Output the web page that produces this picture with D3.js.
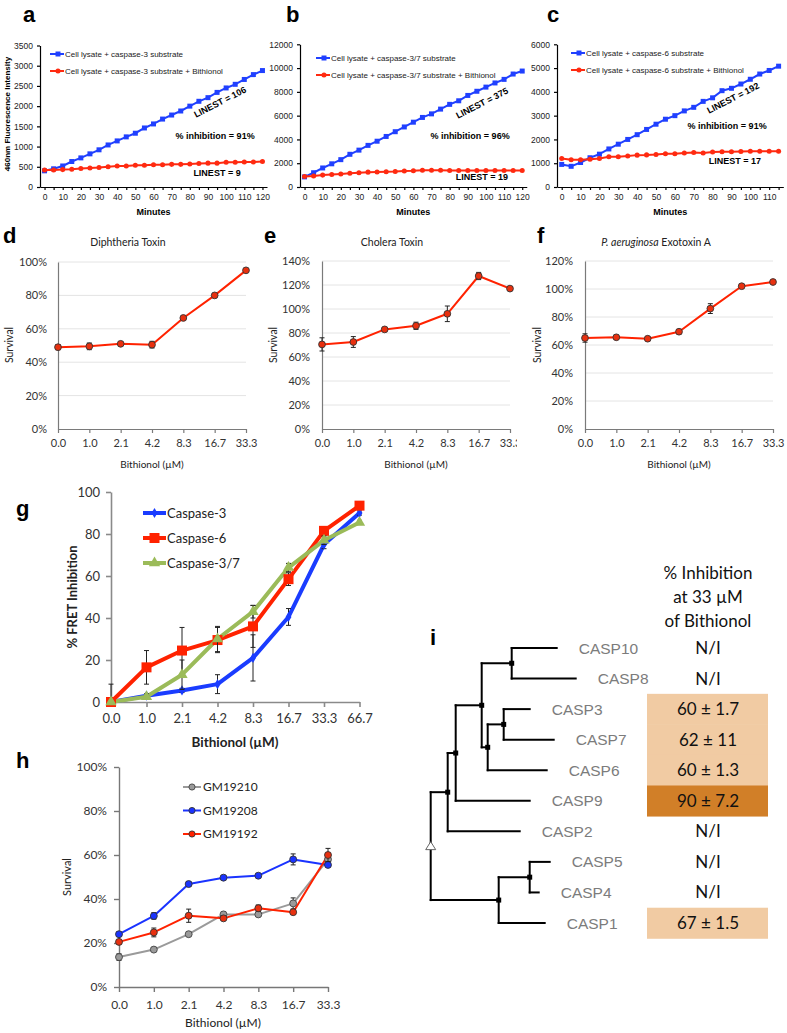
<!DOCTYPE html>
<html>
<head>
<meta charset="utf-8">
<script src="https://cdn.jsdelivr.net/npm/d3@7"></script>
<style>
body { margin: 0; background: #fff; }
svg { display: block; }
</style>
</head>
<body>
<script>
// ---------- data ----------
const minutesAB = [0,5,10,15,20,25,30,35,40,45,50,55,60,65,70,75,80,85,90,95,100,105,110,115,120];
const minutesC  = [0,5,10,15,20,25,30,35,40,45,50,55,60,65,70,75,80,85,90,95,100,105,110,115];

const aSubstrate = [400,450,520,630,720,820,920,1040,1140,1240,1330,1460,1560,1680,1780,1880,2000,2120,2210,2340,2450,2540,2660,2780,2880];
const aBithionol = [420,420,430,440,460,470,480,500,520,520,540,540,550,550,560,560,570,580,590,590,610,610,620,620,630];
const bSubstrate = [850,1200,1600,1950,2300,2750,3100,3500,3850,4250,4650,5050,5450,5850,6150,6550,6950,7250,7700,8050,8400,8750,9050,9500,9750];
const bBithionol = [880,920,1000,1050,1100,1150,1200,1250,1260,1280,1300,1350,1360,1400,1400,1400,1390,1390,1380,1390,1380,1390,1380,1390,1390];
const cSubstrate = [950,870,1030,1230,1380,1600,1800,2000,2200,2420,2640,2850,3000,3200,3350,3600,3750,4050,4150,4330,4530,4750,4900,5080];
const cBithionol = [1200,1150,1150,1170,1200,1270,1270,1300,1340,1350,1370,1400,1400,1430,1450,1430,1470,1480,1480,1490,1500,1500,1500,1500];

const aTicks = [0,500,1000,1500,2000,2500,3000,3500];
const bTicks = [0,2000,4000,6000,8000,10000,12000];
const cTicks = [0,1000,2000,3000,4000,5000,6000];

const doseLabels  = ["0.0","1.0","2.1","4.2","8.3","16.7","33.3"];
const gDoseLabels = ["0.0","1.0","2.1","4.2","8.3","16.7","33.3","66.7"];

const dSurvival = [49, 49.5, 51, 50.5, 66.5, 80, 95];
const dErr      = [1.5, 2, 1, 2, 0.5, 0.5, 0.5];
const eSurvival = [70.5, 72.5, 83, 86, 96, 127.5, 117];
const eErr      = [5.5, 4.5, 1, 3, 6.5, 3, 1.5];
const fSurvival = [65, 65.5, 64.5, 69.5, 86, 102, 105];
const fErr      = [3, 1.5, 1, 1.5, 3.5, 1, 0.5];
const dTicks = [0,20,40,60,80,100];
const eTicks = [0,20,40,60,80,100,120,140];
const fTicks = [0,20,40,60,80,100,120];

const gCasp3     = [0, 3, 5.5, 8.5, 21, 40.5, 75, 90];
const gCasp3Err  = [8.5, 1, 1, 4.5, 11, 4, 2, 1];
const gCasp6     = [0, 16.5, 24.5, 29.5, 36, 58.5, 81.5, 93.5];
const gCasp6Err  = [0, 8, 11, 6, 10, 3, 2, 1];
const gCasp37    = [0, 2.5, 13, 30, 43, 64, 77, 85.5];
const gCasp37Err = [0, 1, 7, 6, 3, 2, 2, 1];
const gTicks = [0,20,40,60,80,100];

const hGM19210    = [13.6, 17, 24, 33, 33, 38, 58];
const hGM19210Err = [1.5, 0.5, 0.5, 1, 1, 2.5, 0];
const hGM19208    = [24, 32.3, 46.8, 49.7, 50.6, 58, 55.5];
const hGM19208Err = [1, 1.5, 1, 0.5, 0.5, 2.5, 1];
const hGM19192    = [20.5, 24.8, 32.4, 31.2, 35.8, 34, 60];
const hGM19192Err = [1, 2, 3, 1, 1.5, 1, 3];
const hTicks = [0,20,40,60,80,100];

// caspase tree: node, parent, distance from root
const treeIds     = ["root","n1","n2","n3","n4","CASP10","CASP8","n5","n6","CASP3","CASP7","CASP6","CASP9","CASP2","n7","n8","CASP5","CASP4","CASP1"];
const treeParents = ["", "root","n1","n2","n3","n4","n4","n3","n5","n6","n6","n5","n2","n1","root","n7","n8","n8","n7"];
const treeDist    = [0, 0.17, 0.25, 0.51, 0.81, 1.26, 1.45, 0.57, 0.73, 0.99, 1.23, 1.16, 0.99, 0.89, 0.68, 0.99, 1.19, 1.08, 1.14];
const leafInhibition = ["N/I","N/I","60 ± 1.7","62 ± 11","60 ± 1.3","90 ± 7.2","N/I","N/I","N/I","67 ± 1.5"];
const leafLevel      = [0,0,1,1,1,2,0,0,0,1];

// ---------- drawing ----------
const ARIAL = "'Liberation Sans', Arial, sans-serif";
const CAL = "Lato, 'Open Sans', sans-serif";
const BLUE = "#2040ff", RED = "#ff2a10";

const svg = d3.select("body").append("svg")
    .attr("width", 787)
    .attr("height", 1033);

function styleAxis(a, color, font, size, textColor){
    a.attr("font-family", font).attr("font-size", size);
    a.select(".domain").attr("stroke", color).attr("stroke-width", 1.2);
    a.selectAll(".tick line").attr("stroke", color).attr("stroke-width", 1.2);
    a.selectAll(".tick text").attr("fill", textColor || "#222");
}

function panelLetter(t, x, y){
    svg.append("text").text(t).attr("x", x).attr("y", y)
        .attr("font-family", ARIAL).attr("font-weight", "bold").attr("font-size", 22);
}

function symbolPath(shape, size){
    const types = {square: d3.symbolSquare, circle: d3.symbolCircle, diamond: d3.symbolDiamond, triangle: d3.symbolTriangle};
    return d3.symbol(types[shape], size)();
}

// panels a-c
function kinetics(p){
    const g = svg.append("g");
    const x = d3.scalePoint().domain(p.cats)
        .range([p.left, p.left + p.step * p.cats.length]).padding(0.5);
    const y = d3.scaleLinear().domain([0, d3.max(p.yTicks)]).range([187, p.top]);

    const ya = g.append("g").attr("transform", `translate(${p.left},0)`)
        .call(d3.axisLeft(y).tickValues(p.yTicks).tickSize(3).tickPadding(4).tickSizeOuter(0)
            .tickFormat(d3.format("d")));
    const xa = g.append("g").attr("transform", "translate(0,187)")
        .call(d3.axisBottom(x).tickSize(3).tickPadding(4).tickSizeOuter(0)
            .tickFormat(d => d % 10 === 0 ? d : ""));
    styleAxis(ya, "#000", ARIAL, 8.5);
    styleAxis(xa, "#000", ARIAL, 8.5);

    p.series.forEach((s, k) => {
        g.append("path").datum(s.values)
            .attr("fill", "none").attr("stroke", s.color).attr("stroke-width", 2)
            .attr("d", d3.line().x((d, i) => x(p.cats[i])).y(d => y(d)));
        g.append("g").selectAll("path").data(s.values).join("path")
            .attr("transform", (d, i) => `translate(${x(p.cats[i])},${y(d)})`)
            .attr("d", symbolPath(s.shape, s.shape === "square" ? 25 : 20))
            .attr("fill", s.color);
        // legend
        const ly = p.legendY + k * 17;
        g.append("line").attr("x1", p.legendX - 14).attr("x2", p.legendX)
            .attr("y1", ly).attr("y2", ly).attr("stroke", s.color).attr("stroke-width", 2);
        g.append("path").attr("transform", `translate(${p.legendX - 6},${ly})`)
            .attr("d", symbolPath(s.shape, s.shape === "square" ? 25 : 20)).attr("fill", s.color);
        g.append("text").text(s.name).attr("x", p.legendX + 1).attr("y", ly + 3)
            .attr("font-family", ARIAL).attr("font-size", 8).attr("fill", "#222");
    });

    g.append("text").text("Minutes")
        .attr("x", p.left + p.step * p.cats.length / 2).attr("y", 215)
        .attr("text-anchor", "middle").attr("font-family", ARIAL)
        .attr("font-weight", "bold").attr("font-size", 9);

    p.notes.forEach(n => {
        g.append("text").text(n.text)
            .attr("transform", `translate(${n.x},${n.y}) rotate(${n.rot || 0})`)
            .attr("dy", "0.35em").attr("text-anchor", "middle")
            .attr("font-family", ARIAL).attr("font-weight", "bold").attr("font-size", 9);
    });
    return g;
}

kinetics({
    cats: minutesAB, left: 40, step: 9.08, top: 45.5, yTicks: aTicks,
    legendX: 64, legendY: 54,
    series: [
        {name: "Cell lysate + caspase-3 substrate", values: aSubstrate, color: BLUE, shape: "square"},
        {name: "Cell lysate + caspase-3 substrate + Bithionol", values: aBithionol, color: RED, shape: "circle"}
    ],
    notes: [
        {text: "LINEST = 106", x: 220, y: 102, rot: -27},
        {text: "% inhibition = 91%", x: 215, y: 136},
        {text: "LINEST = 9", x: 217, y: 173}
    ]
});
kinetics({
    cats: minutesAB, left: 300, step: 9.07, top: 44.3, yTicks: bTicks,
    legendX: 330, legendY: 58,
    series: [
        {name: "Cell lysate + caspase-3/7 substrate", values: bSubstrate, color: BLUE, shape: "square"},
        {name: "Cell lysate + caspase-3/7 substrate + Bithionol", values: bBithionol, color: RED, shape: "circle"}
    ],
    notes: [
        {text: "LINEST = 375", x: 482, y: 103, rot: -27},
        {text: "% inhibition = 96%", x: 470, y: 136},
        {text: "LINEST = 19", x: 482, y: 177}
    ]
});
kinetics({
    cats: minutesC, left: 557, step: 9.43, top: 44.3, yTicks: cTicks,
    legendX: 585, legendY: 53,
    series: [
        {name: "Cell lysate + caspase-6 substrate", values: cSubstrate, color: BLUE, shape: "square"},
        {name: "Cell lysate + caspase-6 substrate + Bithionol", values: cBithionol, color: RED, shape: "circle"}
    ],
    notes: [
        {text: "LINEST = 192", x: 733, y: 98, rot: -27},
        {text: "% inhibition = 91%", x: 727, y: 126},
        {text: "LINEST = 17", x: 735, y: 161}
    ]
});

svg.append("text").text("460nm Fluorescence Intensity")
    .attr("transform", "translate(7,114) rotate(-90)").attr("dy", "0.35em")
    .attr("text-anchor", "middle").attr("font-family", ARIAL)
    .attr("font-weight", "bold").attr("font-size", 8);

panelLetter("a", 23, 22);
panelLetter("b", 286, 22);
panelLetter("c", 547, 22);

// dose-response panels d-h
let clipCount = 0;
function doseChart(p){
    const g = svg.append("g");
    if (p.clipRight){
        const id = "clip" + (clipCount++);
        svg.append("clipPath").attr("id", id).append("rect")
            .attr("x", p.left - 80).attr("y", p.top - 40)
            .attr("width", p.clipRight - p.left + 80).attr("height", p.bottom - p.top + 80);
        g.attr("clip-path", `url(#${id})`);
    }
    const x = d3.scalePoint().domain(p.cats).range([p.left, p.right]);
    const y = d3.scaleLinear().domain([0, d3.max(p.yTicks)]).range([p.bottom, p.top]);

    if (p.grid){
        g.append("g").selectAll("line").data(p.yTicks.slice(1)).join("line")
            .attr("x1", p.left).attr("x2", p.right)
            .attr("y1", d => y(d)).attr("y2", d => y(d))
            .attr("stroke", "#e4e4e4").attr("stroke-width", 1);
    }
    const ya = g.append("g").attr("transform", `translate(${p.left},0)`)
        .call(d3.axisLeft(y).tickValues(p.yTicks).tickSize(p.ytick).tickPadding(p.ypad)
            .tickSizeOuter(0).tickFormat(p.pct ? (d => d + "%") : (d => d)));
    const xa = g.append("g").attr("transform", `translate(0,${p.bottom})`)
        .call(d3.axisBottom(x).tickSize(p.xtick).tickPadding(p.xpad).tickSizeOuter(0));
    styleAxis(ya, p.axisColor, CAL, p.font, "#333");
    styleAxis(xa, p.axisColor, CAL, p.font, "#333");
    if (p.axisWidth){
        ya.selectAll("path, line").attr("stroke-width", p.axisWidth);
        xa.selectAll("path, line").attr("stroke-width", p.axisWidth);
    }

    p.series.forEach(s => {
        g.append("path").datum(s.values)
            .attr("fill", "none").attr("stroke", s.color).attr("stroke-width", s.width)
            .attr("stroke-linejoin", "round")
            .attr("d", d3.line().x((d, i) => x(p.cats[i])).y(d => y(d)));
    });
    p.series.forEach(s => {
        const eb = g.append("g").attr("stroke", "#222").attr("stroke-width", 1);
        s.values.forEach((v, i) => {
            const e = s.errs[i];
            if (!e) return;
            const cx = x(p.cats[i]);
            const y1 = y(Math.max(0, v - e)), y2 = y(v + e);
            eb.append("line").attr("x1", cx).attr("x2", cx).attr("y1", y1).attr("y2", y2);
            eb.append("line").attr("x1", cx - 2.5).attr("x2", cx + 2.5).attr("y1", y2).attr("y2", y2);
            if (v - e > 0) eb.append("line").attr("x1", cx - 2.5).attr("x2", cx + 2.5).attr("y1", y1).attr("y2", y1);
        });
        g.append("g").selectAll("path").data(s.values).join("path")
            .attr("transform", (d, i) => `translate(${x(p.cats[i])},${y(d)})`)
            .attr("d", symbolPath(s.shape, s.size))
            .attr("fill", s.fill || s.color)
            .attr("stroke", s.stroke || "none").attr("stroke-width", 0.9);
    });
    return {g, x, y};
}

function survivalPanel(p){
    doseChart(Object.assign({
        cats: doseLabels, bottom: 429, pct: true, grid: true, axisColor: "#7a7a7a",
        ytick: 0, xtick: 4, xpad: 6, font: 11,
        series: [{values: p.values, errs: p.errs, color: "#ff2200", width: 2,
                  shape: "circle", size: 36, fill: "#e8300f", stroke: "#333"}]
    }, p));
    const t = svg.append("text").attr("x", p.titleX).attr("y", 246)
        .attr("text-anchor", "middle").attr("font-family", CAL)
        .attr("font-size", 10.5).attr("fill", "#222");
    if (p.italic){
        t.append("tspan").attr("font-style", "italic").text(p.italic);
        t.append("tspan").text(p.title);
    } else t.text(p.title);
    svg.append("text").text("Survival")
        .attr("transform", `translate(${p.survX},345) rotate(-90)`).attr("dy", "0.35em")
        .attr("text-anchor", "middle").attr("font-family", CAL)
        .attr("font-size", 10.5).attr("fill", "#222");
    svg.append("text").text("Bithionol (µM)")
        .attr("x", (p.left + p.right) / 2).attr("y", 468)
        .attr("text-anchor", "middle").attr("font-family", CAL)
        .attr("font-size", 10).attr("fill", "#222");
}

survivalPanel({left: 58, right: 246, top: 262, yTicks: dTicks, ypad: 11,
    values: dSurvival, errs: dErr, title: "Diphtheria Toxin", titleX: 128, survX: 9});
survivalPanel({left: 322, right: 510, top: 261, yTicks: eTicks, ypad: 12, clipRight: 517,
    values: eSurvival, errs: eErr, title: "Cholera Toxin", titleX: 392, survX: 273});
survivalPanel({left: 585, right: 773, top: 261, yTicks: fTicks, ypad: 12,
    values: fSurvival, errs: fErr, italic: "P. aeruginosa", title: " Exotoxin A", titleX: 656, survX: 537});

panelLetter("d", 3, 243);
panelLetter("e", 264, 243);
panelLetter("f", 537, 243);

// panel g
doseChart({
    cats: gDoseLabels, left: 111, right: 359.5, top: 492, bottom: 702, yTicks: gTicks,
    pct: false, grid: false, axisColor: "#8a8a8a", axisWidth: 1.6,
    ytick: 5, ypad: 6, xtick: 5, xpad: 7, font: 13,
    series: [
        {values: gCasp3, errs: gCasp3Err, color: "#1a3cff", width: 4, shape: "diamond", size: 30},
        {values: gCasp6, errs: gCasp6Err, color: "#ff2200", width: 4, shape: "square", size: 100},
        {values: gCasp37, errs: gCasp37Err, color: "#9bbb59", width: 4, shape: "triangle", size: 55}
    ]
});
const gLegend = [
    {name: "Caspase-3", color: "#1a3cff", shape: "diamond", size: 30},
    {name: "Caspase-6", color: "#ff2200", shape: "square", size: 100},
    {name: "Caspase-3/7", color: "#9bbb59", shape: "triangle", size: 55}
];
gLegend.forEach((s, k) => {
    const ly = 513 + k * 25;
    svg.append("line").attr("x1", 143).attr("x2", 166).attr("y1", ly).attr("y2", ly)
        .attr("stroke", s.color).attr("stroke-width", 4);
    svg.append("path").attr("transform", `translate(154.5,${ly})`)
        .attr("d", symbolPath(s.shape, s.size)).attr("fill", s.color);
    svg.append("text").text(s.name).attr("x", 167).attr("y", ly + 4.5)
        .attr("font-family", CAL).attr("font-size", 13).attr("fill", "#222");
});
svg.append("text").text("% FRET Inhibition")
    .attr("transform", "translate(72,597) rotate(-90)").attr("dy", "0.35em")
    .attr("text-anchor", "middle").attr("font-family", CAL)
    .attr("font-weight", "bold").attr("font-size", 13).attr("fill", "#222");
svg.append("text").text("Bithionol (µM)")
    .attr("x", 235).attr("y", 747).attr("text-anchor", "middle")
    .attr("font-family", CAL).attr("font-weight", "bold").attr("font-size", 13.5).attr("fill", "#222");
panelLetter("g", 16, 516);

// panel h
doseChart({
    cats: doseLabels, left: 119, right: 328, top: 767, bottom: 987, yTicks: hTicks,
    pct: true, grid: false, axisColor: "#777", axisWidth: 1.4,
    ytick: 5, ypad: 7, xtick: 5, xpad: 8, font: 12,
    series: [
        {values: hGM19210, errs: hGM19210Err, color: "#9a9a9a", width: 2, shape: "circle", size: 38, fill: "#9a9a9a", stroke: "#444"},
        {values: hGM19208, errs: hGM19208Err, color: "#1a33ff", width: 2, shape: "circle", size: 38, fill: "#1a33ff", stroke: "#333"},
        {values: hGM19192, errs: hGM19192Err, color: "#ff2200", width: 2, shape: "circle", size: 38, fill: "#e8300f", stroke: "#333"}
    ]
});
const hLegend = [
    {name: "GM19210", color: "#9a9a9a", stroke: "#444"},
    {name: "GM19208", color: "#1a33ff", stroke: "#333"},
    {name: "GM19192", color: "#ff2200", stroke: "#333"}
];
hLegend.forEach((s, k) => {
    const ly = 787 + k * 23.5;
    svg.append("line").attr("x1", 183).attr("x2", 201).attr("y1", ly).attr("y2", ly)
        .attr("stroke", s.color).attr("stroke-width", 2);
    svg.append("path").attr("transform", `translate(192,${ly})`)
        .attr("d", symbolPath("circle", 30)).attr("fill", s.color)
        .attr("stroke", s.stroke).attr("stroke-width", 0.9);
    svg.append("text").text(s.name).attr("x", 203).attr("y", ly + 4.3)
        .attr("font-family", CAL).attr("font-size", 12).attr("fill", "#222");
});
svg.append("text").text("Survival")
    .attr("transform", "translate(67,877) rotate(-90)").attr("dy", "0.35em")
    .attr("text-anchor", "middle").attr("font-family", CAL).attr("font-size", 11).attr("fill", "#222");
svg.append("text").text("Bithionol (µM)")
    .attr("x", 223).attr("y", 1027).attr("text-anchor", "middle")
    .attr("font-family", CAL).attr("font-size", 12).attr("fill", "#222");
panelLetter("h", 16, 768);

// panel i: tree + inhibition table
const tree = d3.stratify()
    .id(d => d)
    .parentId((d, i) => treeParents[i])(treeIds);
const distById = new Map(treeIds.map((id, i) => [id, treeDist[i]]));
const leaves = tree.leaves();
const xTree = d3.scaleLinear().domain([0, 1]).range([430.7, 530.7]);
const yLeaf = d3.scalePoint().domain(leaves.map(d => d.id)).range([648, 923]);
tree.eachAfter(n => {
    n.px = xTree(distById.get(n.id));
    n.py = n.children ? (n.children[0].py + n.children[n.children.length - 1].py) / 2 : yLeaf(n.id);
});

const gi = svg.append("g");
const rowH = yLeaf.step();
// shaded cells
gi.append("g").selectAll("rect").data(leaves.filter((d, i) => leafLevel[i] > 0)).join("rect")
    .attr("x", 647).attr("width", 121)
    .attr("y", d => d.py - rowH / 2).attr("height", rowH + 0.5)
    .attr("fill", d => leafLevel[leaves.indexOf(d)] === 2 ? "#d17f28" : "#f1cba3");

const branches = gi.append("g").attr("stroke", "#000").attr("stroke-width", 2)
    .attr("fill", "none").attr("stroke-linecap", "square");
tree.descendants().forEach(n => {
    if (n.parent){
        branches.append("line").attr("x1", n.parent.px).attr("x2", n.px)
            .attr("y1", n.py).attr("y2", n.py);
    }
    if (n.children){
        branches.append("line").attr("x1", n.px).attr("x2", n.px)
            .attr("y1", n.children[0].py).attr("y2", n.children[n.children.length - 1].py);
    }
});
gi.append("g").selectAll("rect").data(tree.descendants().filter(n => n.children && n.parent)).join("rect")
    .attr("x", d => d.px - 2.5).attr("y", d => d.py - 2.5)
    .attr("width", 5).attr("height", 5).attr("fill", "#000");
gi.append("path")
    .attr("d", `M${tree.px},${tree.py - 4.5}L${tree.px + 5},${tree.py + 3.5}L${tree.px - 5},${tree.py + 3.5}Z`)
    .attr("fill", "#fff").attr("stroke", "#555").attr("stroke-width", 0.9);

gi.append("g").selectAll("text").data(leaves).join("text")
    .text(d => d.id)
    .attr("x", d => d.px + 22).attr("y", d => d.py + 5.6)
    .attr("font-family", ARIAL).attr("font-size", 15.5).attr("fill", "#7c7c7c");

gi.append("g").selectAll("text").data(leaves).join("text")
    .text((d, i) => leafInhibition[i])
    .attr("x", 708).attr("y", d => d.py + 6)
    .attr("text-anchor", "middle").attr("font-family", CAL)
    .attr("font-size", 17).attr("fill", "#111");

["% Inhibition", "at 33 µM", "of Bithionol"].forEach((t, k) => {
    gi.append("text").text(t).attr("x", 708).attr("y", 579 + k * 24)
        .attr("text-anchor", "middle").attr("font-family", CAL)
        .attr("font-size", 17).attr("fill", "#111");
});
panelLetter("i", 430, 645);
</script>
</body>
</html>
